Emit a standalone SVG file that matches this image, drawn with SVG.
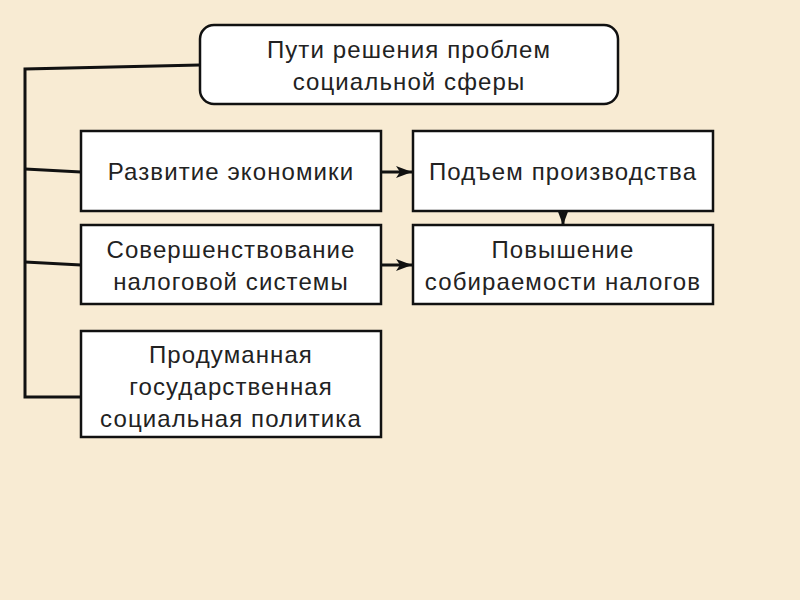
<svg xmlns="http://www.w3.org/2000/svg" width="800" height="600" viewBox="0 0 800 600">
<style>
.box{fill:#fff;stroke:#111;stroke-width:2.5}
.ln{stroke:#111;stroke-width:3;fill:none}
.t{font-family:"Liberation Sans",Arial,sans-serif;font-size:24px;letter-spacing:1.1px;fill:#222;text-anchor:middle}
</style>
<defs>
<marker id="ah" viewBox="0 0 16 12" refX="16" refY="6" markerWidth="16" markerHeight="12" markerUnits="userSpaceOnUse" orient="auto">
<path d="M0,0 L16,6 L0,12 L4,6 Z" fill="#111"/>
</marker>
</defs>
<rect width="800" height="600" fill="#f8ebd3"/>
<g id="connectors">
<polyline class="ln" points="200,65 25,69 25,397 81,397"/>
<line class="ln" x1="25" y1="169" x2="81" y2="172"/>
<line class="ln" x1="25" y1="262" x2="81" y2="265"/>
<line class="ln" x1="381" y1="172" x2="412" y2="172" marker-end="url(#ah)"/>
<line class="ln" x1="381" y1="265" x2="412" y2="265" marker-end="url(#ah)"/>
<line class="ln" x1="563" y1="209" x2="563" y2="225" marker-end="url(#ah)"/>
</g>
<g id="n0">
<rect class="box" x="200" y="25" width="418" height="79" rx="14"/>
<text class="t" x="409" y="58">Пути решения проблем</text>
<text class="t" x="409" y="90">социальной сферы</text>
</g>
<g id="n1">
<rect class="box" x="81" y="131" width="300" height="80"/>
<text class="t" x="231" y="180">Развитие экономики</text>
</g>
<g id="n2">
<rect class="box" x="413" y="131" width="300" height="80"/>
<text class="t" x="563" y="180">Подъем производства</text>
</g>
<g id="n3">
<rect class="box" x="81" y="225" width="300" height="79"/>
<text class="t" x="231" y="258">Совершенствование</text>
<text class="t" x="231" y="290">налоговой системы</text>
</g>
<g id="n4">
<rect class="box" x="413" y="225" width="300" height="79"/>
<text class="t" x="563" y="258">Повышение</text>
<text class="t" x="563" y="290">собираемости налогов</text>
</g>
<g id="n5">
<rect class="box" x="81" y="331" width="300" height="106"/>
<text class="t" x="231" y="363">Продуманная</text>
<text class="t" x="231" y="395">государственная</text>
<text class="t" x="231" y="427">социальная политика</text>
</g>
</svg>
